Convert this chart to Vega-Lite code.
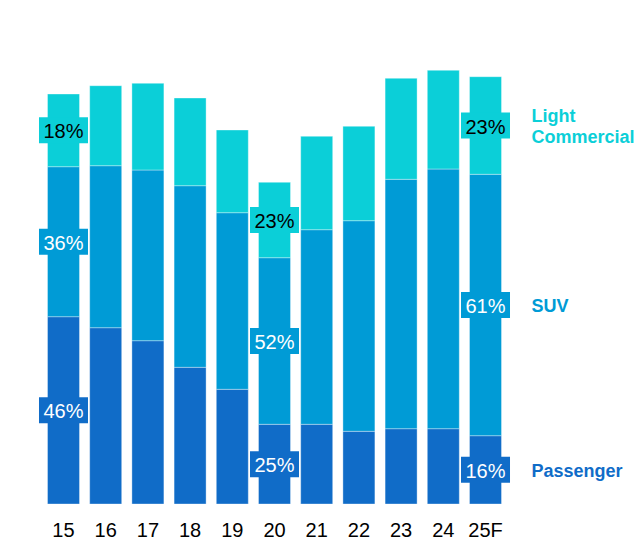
{
  "$schema": "https://vega.github.io/schema/vega-lite/v6.json",
  "width": 454,
  "height": 450,
  "autosize": {"type": "none"},
  "padding": {"left": 47.5, "top": 54, "right": 134.5, "bottom": 35},
  "background": "white",
  "config": {"view": {"stroke": null}, "font": "Liberation Sans"},
  "data": {
    "values": [
      {"cat": "15", "series": "Passenger", "k": 1, "value": 187.3, "label": "46%"},
      {"cat": "15", "series": "SUV", "k": 2, "value": 150.0, "label": "36%"},
      {"cat": "15", "series": "Light Commercial", "k": 3, "value": 72.7, "label": "18%"},
      {"cat": "16", "series": "Passenger", "k": 1, "value": 176.3, "label": ""},
      {"cat": "16", "series": "SUV", "k": 2, "value": 162.0, "label": ""},
      {"cat": "16", "series": "Light Commercial", "k": 3, "value": 80.0, "label": ""},
      {"cat": "17", "series": "Passenger", "k": 1, "value": 163.3, "label": ""},
      {"cat": "17", "series": "SUV", "k": 2, "value": 170.7, "label": ""},
      {"cat": "17", "series": "Light Commercial", "k": 3, "value": 86.7, "label": ""},
      {"cat": "18", "series": "Passenger", "k": 1, "value": 136.7, "label": ""},
      {"cat": "18", "series": "SUV", "k": 2, "value": 181.6, "label": ""},
      {"cat": "18", "series": "Light Commercial", "k": 3, "value": 87.7, "label": ""},
      {"cat": "19", "series": "Passenger", "k": 1, "value": 114.7, "label": ""},
      {"cat": "19", "series": "SUV", "k": 2, "value": 176.6, "label": ""},
      {"cat": "19", "series": "Light Commercial", "k": 3, "value": 82.7, "label": ""},
      {"cat": "20", "series": "Passenger", "k": 1, "value": 79.7, "label": "25%"},
      {"cat": "20", "series": "SUV", "k": 2, "value": 166.6, "label": "52%"},
      {"cat": "20", "series": "Light Commercial", "k": 3, "value": 75.4, "label": "23%"},
      {"cat": "21", "series": "Passenger", "k": 1, "value": 79.7, "label": ""},
      {"cat": "21", "series": "SUV", "k": 2, "value": 194.6, "label": ""},
      {"cat": "21", "series": "Light Commercial", "k": 3, "value": 93.4, "label": ""},
      {"cat": "22", "series": "Passenger", "k": 1, "value": 72.7, "label": ""},
      {"cat": "22", "series": "SUV", "k": 2, "value": 210.6, "label": ""},
      {"cat": "22", "series": "Light Commercial", "k": 3, "value": 94.4, "label": ""},
      {"cat": "23", "series": "Passenger", "k": 1, "value": 75.3, "label": ""},
      {"cat": "23", "series": "SUV", "k": 2, "value": 249.4, "label": ""},
      {"cat": "23", "series": "Light Commercial", "k": 3, "value": 101.0, "label": ""},
      {"cat": "24", "series": "Passenger", "k": 1, "value": 75.3, "label": ""},
      {"cat": "24", "series": "SUV", "k": 2, "value": 259.7, "label": ""},
      {"cat": "24", "series": "Light Commercial", "k": 3, "value": 98.7, "label": ""},
      {"cat": "25F", "series": "Passenger", "k": 1, "value": 68.3, "label": "16%"},
      {"cat": "25F", "series": "SUV", "k": 2, "value": 261.4, "label": "61%"},
      {"cat": "25F", "series": "Light Commercial", "k": 3, "value": 97.6, "label": "23%"}
    ]
  },
  "encoding": {
    "x": {
      "field": "cat", "type": "ordinal",
      "sort": ["15","16","17","18","19","20","21","22","23","24","25F"],
      "scale": {"paddingInner": 0.242, "paddingOuter": 0},
      "axis": {"title": null, "domain": false, "ticks": false, "tickSize": 0, "labelPadding": 16, "labelFontSize": 20, "labelColor": "#000000", "labelFont": "Liberation Sans", "labelAngle": 0}
    }
  },
  "layer": [
    {
      "mark": {"type": "bar", "stroke": "white", "strokeOpacity": 0.35, "strokeWidth": 1},
      "encoding": {
        "y": {"field": "value", "type": "quantitative", "stack": "zero", "scale": {"domain": [0, 450], "nice": false, "zero": true}, "axis": null},
        "color": {"field": "series", "type": "nominal", "scale": {"domain": ["Passenger", "SUV", "Light Commercial"], "range": ["#106cc8", "#009bd6", "#0bcfd8"]}, "legend": null},
        "order": {"field": "k", "type": "quantitative"}
      }
    },
    {
      "transform": [{"filter": "datum.label != ''"}],
      "mark": {"type": "tick", "orient": "horizontal", "size": 49, "thickness": 26, "opacity": 1},
      "encoding": {
        "y": {"field": "value", "type": "quantitative", "stack": "zero", "bandPosition": 0.5},
        "color": {"field": "series", "type": "nominal", "legend": null},
        "order": {"field": "k", "type": "quantitative"}
      }
    },
    {
      "transform": [{"filter": "datum.label != ''"}],
      "mark": {"type": "text", "fontSize": 20, "font": "Liberation Sans", "baseline": "middle", "align": "center", "dy": 2},
      "encoding": {
        "y": {"field": "value", "type": "quantitative", "stack": "zero", "bandPosition": 0.5},
        "text": {"field": "label"},
        "color": {"condition": {"test": "datum.series === 'Light Commercial'", "value": "#000000"}, "value": "#ffffff"},
        "order": {"field": "k", "type": "quantitative"}
      }
    },
    {
      "transform": [{"filter": "datum.cat === '25F'"}],
      "mark": {"type": "text", "fontSize": 18, "fontWeight": "bold", "font": "Liberation Sans", "baseline": "middle", "align": "left", "dx": 46, "dy": 2},
      "encoding": {
        "y": {"field": "value", "type": "quantitative", "stack": "zero", "bandPosition": 0.5},
        "text": {"condition": {"test": "datum.series === 'Light Commercial'", "value": ""}, "field": "series"},
        "color": {"field": "series", "type": "nominal", "legend": null},
        "order": {"field": "k", "type": "quantitative"}
      }
    },
    {
      "transform": [{"filter": "datum.cat === '25F'"}],
      "mark": {"type": "text", "fontSize": 18, "fontWeight": "bold", "font": "Liberation Sans", "baseline": "middle", "align": "left", "dx": 46, "dy": -8.5, "lineBreak": " ", "lineHeight": 21},
      "encoding": {
        "y": {"field": "value", "type": "quantitative", "stack": "zero", "bandPosition": 0.5},
        "text": {"condition": {"test": "datum.series !== 'Light Commercial'", "value": ""}, "field": "series"},
        "color": {"field": "series", "type": "nominal", "legend": null},
        "order": {"field": "k", "type": "quantitative"}
      }
    }
  ]
}
